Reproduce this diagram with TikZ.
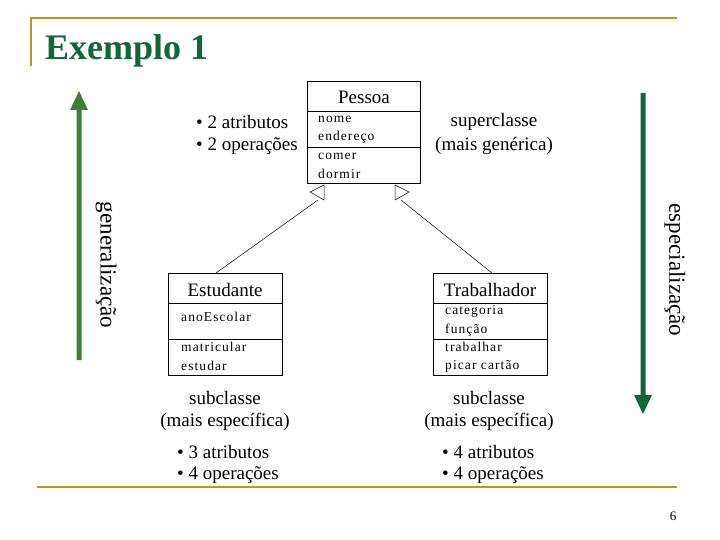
\documentclass[tikz,border=0pt]{standalone}
\usepackage{fontspec}
\setmainfont{Liberation Serif}
\definecolor{gold}{RGB}{190,150,30}
\definecolor{dgreen}{RGB}{20,100,60}
\definecolor{lgreen}{RGB}{65,125,50}
\begin{document}
\begin{tikzpicture}[x=1pt,y=-1pt,
  lbl/.style={inner sep=0pt,font=\fontsize{19}{21}\selectfont},
  sm/.style={inner sep=0pt,anchor=west,font=\fontsize{13.5}{14}\selectfont\addfontfeature{LetterSpace=8}},
  box/.style={draw,line width=0.6pt}]
\useasboundingbox (0,0) rectangle (720,540);
% title
\draw[gold,line width=2.5pt] (30,18) -- (677,18);
\draw[gold,line width=2.5pt] (31,18) -- (31,66);
\draw[gold,line width=1.5pt] (37,487) -- (677,487);
\node[anchor=base west,inner sep=0pt,text=dgreen,font=\fontsize{36}{40}\selectfont\bfseries] (title) at (45,60) {Exemplo 1};
\node[inner sep=0pt,font=\fontsize{13}{14}\selectfont] (pg) at (673,516) {6};
% Pessoa
\draw[box] (307,81) rectangle (420,183);
\draw (307,111) -- (420,111);
\draw (307,147) -- (420,147);
\node[lbl] (pt) at (364,97) {Pessoa};
\node[sm] (a1) at (318,119) {nome};
\node[sm] (a2) at (318,137) {endereço};
\node[sm] (a3) at (318,156) {comer};
\node[sm] (a4) at (318,174) {dormir};
% Estudante
\draw[box] (168,273) rectangle (282,375);
\draw (168,303) -- (282,303);
\draw (168,339) -- (282,339);
\node[lbl] (et) at (225,290) {Estudante};
\node[sm] (e1) at (181,317) {anoEscolar};
\node[sm] (e2) at (181,347) {matricular};
\node[sm] (e3) at (181,366) {estudar};
% Trabalhador
\draw[box] (433,273) rectangle (547,375);
\draw (433,303) -- (547,303);
\draw (433,339) -- (547,339);
\node[lbl] (tt) at (490,290) {Trabalhador};
\node[sm] (t1) at (445,311) {categoria};
\node[sm] (t2) at (445,330) {função};
\node[sm] (t3) at (445,347) {trabalhar};
\node[sm] (t4) at (445,366) {picar cartão};
% triangles and lines
\draw[line width=0.5pt] (324,185) -- (310,192) -- (324,200) -- cycle;
\draw[line width=0.5pt] (395,185) -- (409,192) -- (395,200) -- cycle;
\draw[line width=0.5pt] (318,200) -- (216,273);
\draw[line width=0.5pt] (401,200) -- (492,273);
% side texts
\node[lbl,anchor=west] (s1) at (196,122) {• 2 atributos};
\node[lbl,anchor=west] (s2) at (196,146) {• 2 operações};
\node[lbl] (s3) at (494,122) {superclasse};
\node[lbl] (s4) at (494,146) {(mais genérica)};
\node[lbl] (b1) at (225,398) {subclasse};
\node[lbl] (b2) at (225,422) {(mais específica)};
\node[lbl] (b3) at (489,398) {subclasse};
\node[lbl] (b4) at (489,422) {(mais específica)};
\node[lbl,anchor=west] (c1) at (177,452) {• 3 atributos};
\node[lbl,anchor=west] (c2) at (177,475) {• 4 operações};
\node[lbl,anchor=west] (d1) at (442,452) {• 4 atributos};
\node[lbl,anchor=west] (d2) at (442,475) {• 4 operações};
% green arrows
\fill[lgreen] (76.5,360) rectangle (81.5,108) (70,110) -- (79,91) -- (88,110) -- cycle;
\fill[dgreen] (640.5,93) rectangle (645.5,397) (634,395) -- (643,414) -- (652,395) -- cycle;
\node[lbl,rotate=-90,font=\fontsize{23}{25}\selectfont] (g) at (106,265) {generalização};
\node[lbl,rotate=-90,font=\fontsize{23}{25}\selectfont] (sp) at (675,270) {especialização};
\end{tikzpicture}
\end{document}
